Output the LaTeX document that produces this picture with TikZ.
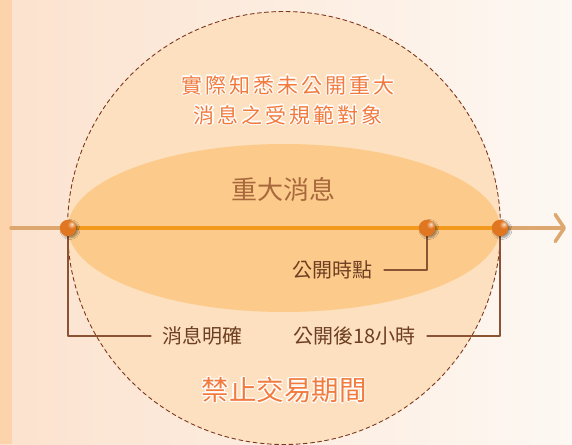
\documentclass[tikz,border=0pt]{standalone}
\usepackage{fontspec}
\newfontfamily\cjk{Noto Sans CJK TC}
\newfontfamily\cjkwide[LetterSpace=14]{Noto Sans CJK TC}
\usetikzlibrary{arrows.meta,shadows.blur}

\definecolor{bgleft}{RGB}{252,226,206}
\definecolor{bgright}{RGB}{253,248,243}
\definecolor{stripe}{RGB}{253,211,171}
\definecolor{circfill}{RGB}{253,224,191}
\definecolor{ellfill}{RGB}{252,203,140}
\definecolor{axistan}{RGB}{221,168,112}
\definecolor{axisorange}{RGB}{243,154,30}
\definecolor{dashbrown}{RGB}{122,56,30}
\definecolor{linebrown}{RGB}{139,82,52}
\definecolor{titleorange}{RGB}{242,122,60}
\definecolor{midbrown}{RGB}{168,104,60}
\definecolor{labelbrown}{RGB}{110,62,34}
\definecolor{orbhi}{RGB}{250,222,200}
\definecolor{orbmid}{RGB}{224,118,32}
\definecolor{orbdark}{RGB}{170,78,15}

\pgfdeclareradialshading{orb}{\pgfpoint{12bp}{12bp}}{color(0bp)=(orbhi);
  color(12bp)=(orbmid); color(40bp)=(orbmid); color(62bp)=(orbdark); color(80bp)=(orbdark)}

\tikzset{
  ball/.style={circle,minimum size=16.5pt,inner sep=0pt,shading=orb,
    blur shadow={shadow xshift=2pt,shadow yshift=-1.5pt,shadow blur steps=6,shadow opacity=40}},
  conn/.style={draw=linebrown,line width=1.2pt},
  tag/.style={font=\cjk\fontsize{20}{24}\selectfont,text=labelbrown,inner xsep=11pt,inner ysep=0pt},
  title/.style={font=\cjkwide\fontsize{21}{30}\selectfont,text=titleorange,align=center,inner sep=0pt},
  period/.style={font=\cjk\fontsize{27.5}{30}\selectfont,text=titleorange,inner sep=0pt},
}

% text with a white halo round it
\newcommand{\halonode}[4]{%
  \foreach \a in {0,45,...,315}
    \node[#3,text=white,shift={(\a:1.3pt)}] at (#2) {#4};
  \node[#3] (#1) at (#2) {#4};}

\begin{document}
\begin{tikzpicture}[line cap=round,line join=round,x=1pt,y=-1pt]
\useasboundingbox (0,0) rectangle (572,444);
\clip (0,0) rectangle (572,444);
% background
\fill[left color=bgleft,right color=bgright] (0,0) rectangle (572,444);
\fill[stripe] (0,0) rectangle (12,444);
\fill[circfill] (284,228) circle (216.5);
\fill[ellfill] (284,228) ellipse [x radius=216,y radius=84];
\draw[dashbrown,line width=0.9pt,dash pattern=on 4pt off 3.2pt] (284,228) circle (216.5);

% texts
\halonode{insider}{288,100}{title}{實際知悉未公開重大\\消息之受規範對象}
\node[font=\cjk\fontsize{26}{30}\selectfont,text=midbrown,inner sep=0pt] (major) at (283,190) {重大消息};
\halonode{ban}{284,390}{period}{禁止交易期間}
\node[tag,anchor=east] (pubtime) at (384,270) {公開時點};
\node[tag,anchor=west] (clear) at (151,336) {消息明確};
\node[tag,anchor=east] (after) at (427,336) {公開後18小時};

% time axis
\coordinate (axl) at (11,228);
\coordinate (axr) at (566,228);
\coordinate (clearpt) at (68,228);
\coordinate (pubpt) at (427,228);
\coordinate (endpt) at (500,228);
\draw[axistan,line width=3.5pt,-{Straight Barb[length=9pt,width=27pt,round]}] (axl) -- (axr);
\draw[axisorange,line width=3.5pt] (clearpt) -- (endpt);

% connectors
\draw[conn] (clearpt) |- (clear.west);
\draw[conn] (pubpt) |- (pubtime.east);
\draw[conn] (after.east) -| (endpt);

% points
\node[ball] (clearball) at (clearpt) {};
\node[ball] (pubball) at (pubpt) {};
\node[ball] (endball) at (endpt) {};
\end{tikzpicture}
\end{document}
